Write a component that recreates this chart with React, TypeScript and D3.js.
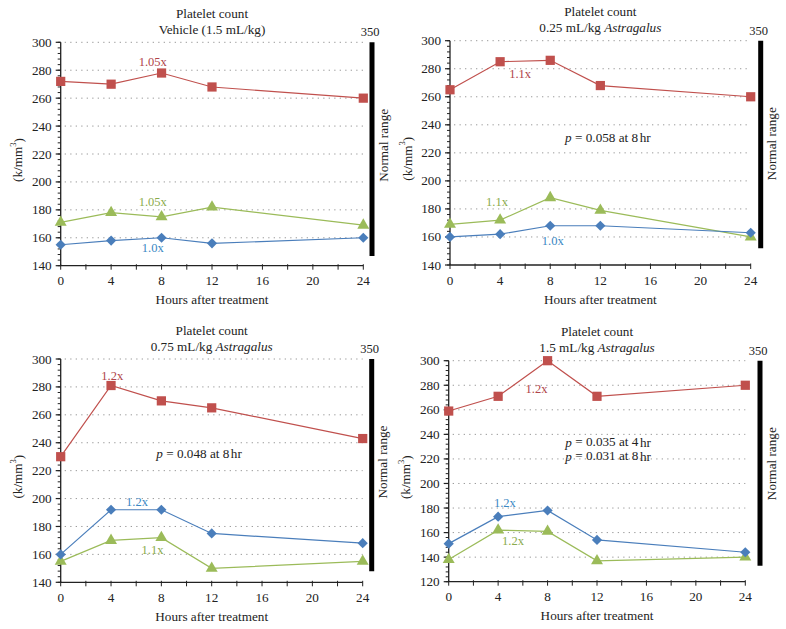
import React from "react";
import * as d3 from "d3";

const hours = [0, 4, 8, 12, 24];
const xTickLabels = [0, 4, 8, 12, 16, 20, 24];

const titles = ["Platelet count", "Platelet count", "Platelet count", "Platelet count"];
const subtitlePlain = ["Vehicle (1.5 mL/kg)", "0.25 mL/kg ", "0.75 mL/kg ", "1.5 mL/kg "];
const subtitleItalic = ["", "Astragalus", "Astragalus", "Astragalus"];
const yMins = [140, 140, 140, 120];
const yMax = 300;
const normalRangeTopLabel = "350";
const normalRangeBottom = [147, 152, 148, 133];

// series values per panel
const redSeries = [
  [272, 270, 278, 268, 260],
  [265, 285, 286, 268, 260],
  [230, 281, 270, 265, 243],
  [259, 271, 300, 271, 280],
];
const greenSeries = [
  [171, 178, 175, 182, 169],
  [169, 172, 188, 179, 160],
  [155, 170, 172, 150, 155],
  [138, 162, 161, 137, 140],
];
const blueSeries = [
  [155, 158, 160, 156, 160],
  [160, 162, 168, 168, 163],
  [160, 192, 192, 175, 168],
  [151, 173, 178, 154, 144],
];

// fold-change annotations: [hour, value, text]
const redNotes: [number, number, string][] = [
  [7.3, 285.9, "1.05x"],
  [5.6, 276.2, "1.1x"],
  [4.1, 287.8, "1.2x"],
  [7.1, 277, "1.2x"],
];
const greenNotes: [number, number, string][] = [
  [7.3, 185.6, "1.05x"],
  [3.75, 185, "1.1x"],
  [7.3, 163.1, "1.1x"],
  [5.2, 153.4, "1.2x"],
];
const blueNotes: [number, number, string][] = [
  [7.3, 152.6, "1.0x"],
  [8.2, 157.1, "1.0x"],
  [6.06, 197.7, "1.2x"],
  [4.55, 184.1, "1.2x"],
];
// p-value annotations: [hour, value, pvalue, hr]
const pNotes: [number, number, string, string][][] = [
  [],
  [[12.6, 231.3, "0.058", "8"]],
  [[11.0, 232.6, "0.048", "8"]],
  [
    [12.9, 234, "0.035", "4"],
    [12.9, 222.4, "0.031", "8"],
  ],
];

const layout = [
  { left: 60.7, right: 363.3, top: 42.3, bottom: 265.7, barX: 372 },
  { left: 450, right: 750.7, top: 40.7, bottom: 265, barX: 760.7 },
  { left: 60.7, right: 362.7, top: 359, bottom: 582.3, barX: 371.7 },
  { left: 448.7, right: 745.3, top: 360.7, bottom: 581.7, barX: 760 },
];

const RED = "#c0504d";
const GREEN = "#9bbb59";
const BLUE = "#4a7ebb";
const RED_T = "#b0454a";
const GREEN_T = "#8aab4c";
const BLUE_T = "#3a88c4";
const FONT = '"Liberation Serif", "Times New Roman", Tinos, "DejaVu Serif", serif';
const FS = 12.5;
const FS_T = 13.2;

function Panel({ i }: { i: number }) {
  const L = layout[i];
  const yMin = yMins[i];
  const x = d3.scaleLinear().domain([0, 24]).range([L.left, L.right]);
  const y = d3.scaleLinear().domain([yMin, yMax]).range([L.bottom, L.top]);
  const yMajor = d3.range(yMin, yMax + 1, 20);
  const yMinor = d3.range(yMin, yMax + 0.1, 4);
  const xMinor = d3.range(0, 24.1, 2);
  const line = d3
    .line<number>()
    .x((_, j) => x(hours[j]))
    .y((d) => y(d));
  const square = d3.symbol().type(d3.symbolSquare).size(85)()!;
  const diamond = d3.symbol().type(d3.symbolSquare).size(52)()!;
  const triangle = d3.symbol().type(d3.symbolTriangle).size(62)()!;
  const cx = (L.left + L.right) / 2;
  const yMid = (L.top + L.bottom) / 2;

  const series = [
    { data: greenSeries[i], color: GREEN, shape: triangle, rot: 0 },
    { data: blueSeries[i], color: BLUE, shape: diamond, rot: 45 },
    { data: redSeries[i], color: RED, shape: square, rot: 0 },
  ];

  return (
    <g style={{ fontFamily: FONT, fontSize: FS }} fill="#222">
      {/* titles */}
      <text x={cx} y={L.top - 24.5} textAnchor="middle" style={{ fontSize: FS_T }}>
        {titles[i]}
      </text>
      <text x={cx} y={L.top - 8.5} textAnchor="middle" style={{ fontSize: FS_T }}>
        {subtitlePlain[i]}
        {subtitleItalic[i] && <tspan fontStyle="italic">{subtitleItalic[i]}</tspan>}
      </text>
      {/* grid */}
      {yMajor
        .filter((v) => v > yMin)
        .map((v) => (
          <line
            key={"g" + v}
            x1={L.left + 4}
            x2={L.right}
            y1={y(v)}
            y2={y(v)}
            stroke="#9a9a9a"
            strokeWidth={1}
            strokeDasharray="1.3,4.2"
          />
        ))}
      {/* y axis */}
      <line x1={L.left} x2={L.left} y1={L.top} y2={L.bottom} stroke="#222" strokeWidth={1.3} />
      {yMinor.map((v) => (
        <line key={"ym" + v} x1={L.left - 3} x2={L.left} y1={y(v)} y2={y(v)} stroke="#222" strokeWidth={1} />
      ))}
      {yMajor.map((v) => (
        <g key={"yM" + v}>
          <line x1={L.left - 5} x2={L.left} y1={y(v)} y2={y(v)} stroke="#222" strokeWidth={1.2} />
          <text x={L.left - 9} y={y(v)} textAnchor="end" dominantBaseline="central" style={{ fontSize: FS_T }}>
            {v}
          </text>
        </g>
      ))}
      {/* x axis */}
      <line x1={L.left} x2={L.right} y1={L.bottom} y2={L.bottom} stroke="#222" strokeWidth={1.3} />
      {xMinor.map((h) => (
        <line key={"xm" + h} x1={x(h)} x2={x(h)} y1={L.bottom - 1.5} y2={L.bottom + 4} stroke="#222" strokeWidth={1} />
      ))}
      {xTickLabels.map((h) => (
        <text key={"xl" + h} x={x(h)} y={L.bottom + 19.5} textAnchor="middle" style={{ fontSize: FS_T }}>
          {h}
        </text>
      ))}
      <text x={cx} y={L.bottom + 38.5} textAnchor="middle" style={{ fontSize: FS_T }}>
        Hours after treatment
      </text>
      {/* y label */}
      <text
        transform={`translate(${L.left - 43},${yMid + 6}) rotate(-90)`}
        textAnchor="middle"
        dominantBaseline="central"
        style={{ fontSize: FS_T }}
      >
        (k/mm<tspan dy={-5} style={{ fontSize: 8.5 }}>3</tspan>
        <tspan dy={5}>)</tspan>
      </text>
      {/* normal range bar */}
      <line
        x1={L.barX}
        x2={L.barX}
        y1={y(yMax)}
        y2={y(normalRangeBottom[i])}
        stroke="#000"
        strokeWidth={5}
      />
      <text x={L.barX - 2} y={y(yMax) - 6} textAnchor="middle">
        {normalRangeTopLabel}
      </text>
      <text
        transform={`translate(${L.barX + 11},${L.top + 103}) rotate(-90)`}
        textAnchor="middle"
        dominantBaseline="central"
        style={{ fontSize: FS_T }}
      >
        Normal range
      </text>
      {/* series */}
      {series.map((s, k) => (
        <g key={"s" + k}>
          <path d={line(s.data) || ""} fill="none" stroke={s.color} strokeWidth={1.2} />
          {s.data.map((v, j) => (
            <path
              key={j}
              d={s.shape}
              transform={`translate(${x(hours[j])},${y(v)}) rotate(${s.rot})`}
              fill={s.color}
            />
          ))}
        </g>
      ))}
      {/* annotations */}
      <text x={x(redNotes[i][0])} y={y(redNotes[i][1])} textAnchor="middle" dominantBaseline="central" fill={RED_T}>
        {redNotes[i][2]}
      </text>
      <text x={x(greenNotes[i][0])} y={y(greenNotes[i][1])} textAnchor="middle" dominantBaseline="central" fill={GREEN_T}>
        {greenNotes[i][2]}
      </text>
      <text x={x(blueNotes[i][0])} y={y(blueNotes[i][1])} textAnchor="middle" dominantBaseline="central" fill={BLUE_T}>
        {blueNotes[i][2]}
      </text>
      {pNotes[i].map((p, k) => (
        <text key={"p" + k} x={x(p[0])} y={y(p[1])} textAnchor="middle" dominantBaseline="central" style={{ fontSize: FS_T }}>
          <tspan fontStyle="italic">p</tspan> = {p[2]} at {p[3]}
          <tspan dx={1.5}>hr</tspan>
        </text>
      ))}
    </g>
  );
}

export default function App() {
  return (
    <svg
      width={786}
      height={629}
      style={{ position: "absolute", left: 0, top: 0, background: "#fff" }}
    >
      <rect width={786} height={629} fill="#fff" />
      {[0, 1, 2, 3].map((i) => (
        <Panel key={i} i={i} />
      ))}
    </svg>
  );
}
